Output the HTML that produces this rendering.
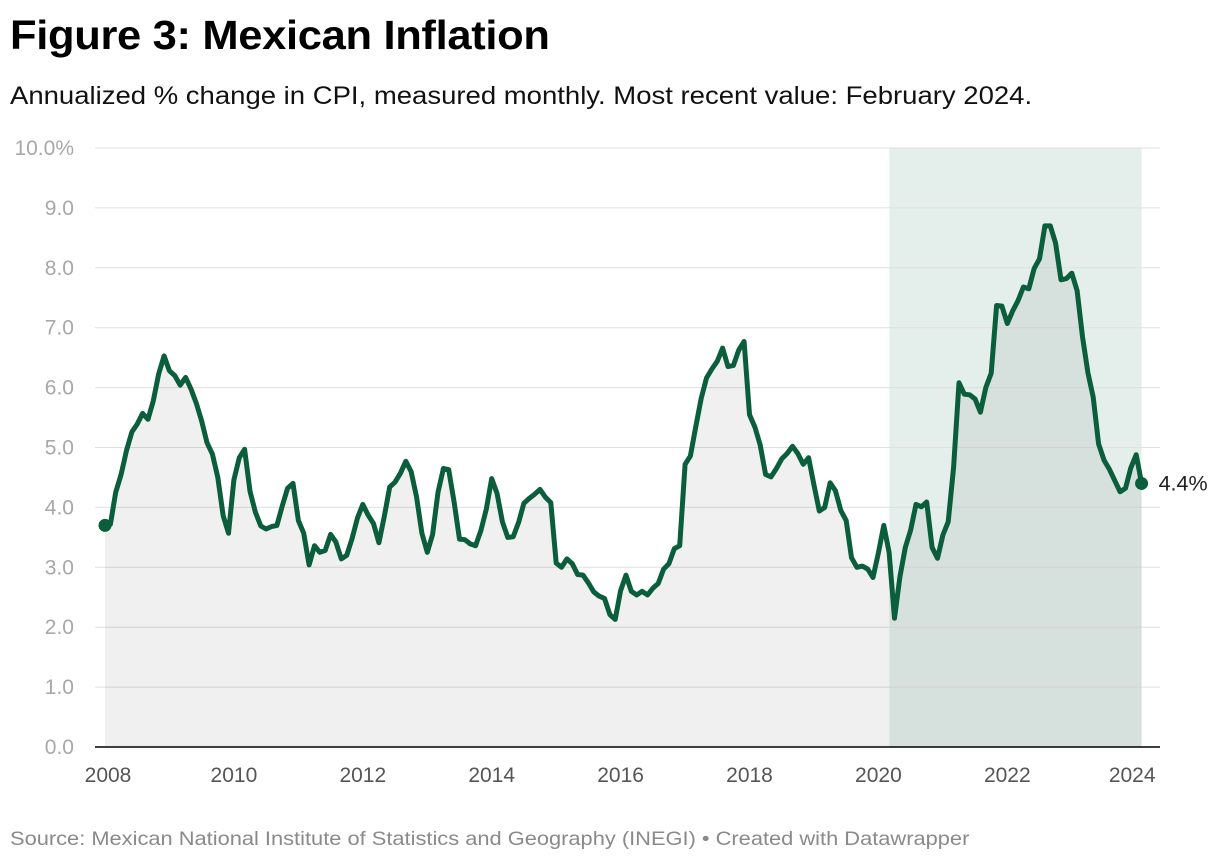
<!DOCTYPE html>
<html><head><meta charset="utf-8">
<style>
body{margin:0;background:#fff;font-family:"Liberation Sans",sans-serif;}
#wrap{position:relative;width:1220px;height:864px;overflow:hidden;}
h1{position:absolute;left:10px;top:12px;margin:0;font-size:41px;font-weight:bold;color:#000;letter-spacing:-0.3px;transform:scaleX(1.06);transform-origin:left top;white-space:nowrap;}
.sub{position:absolute;left:10px;top:82px;font-size:25px;color:#111;transform:scaleX(1.10);transform-origin:left top;white-space:nowrap;}
.src{position:absolute;left:10px;top:828px;font-size:19.5px;color:#8a8a8a;transform:scaleX(1.12);transform-origin:left top;white-space:nowrap;}
</style></head><body>
<div id="wrap">
<h1>Figure 3: Mexican Inflation</h1>
<div class="sub">Annualized % change in CPI, measured monthly. Most recent value: February 2024.</div>
<svg id="chart" width="1220" height="864" style="position:absolute;left:0;top:0"></svg>
<div class="src">Source: Mexican National Institute of Statistics and Geography (INEGI) • Created with Datawrapper</div>
</div>
<script>
const startYear = 2008;
const inflation = [
3.70,3.72,4.25,4.55,4.95,5.26,5.39,5.57,5.47,5.78,6.23,6.53,
6.28,6.20,6.04,6.17,5.98,5.74,5.44,5.08,4.89,4.50,3.86,3.57,
4.46,4.83,4.97,4.27,3.92,3.69,3.64,3.68,3.70,4.02,4.32,4.40,
3.78,3.57,3.04,3.36,3.25,3.28,3.55,3.42,3.14,3.20,3.48,3.82,
4.05,3.87,3.73,3.41,3.85,4.34,4.42,4.57,4.77,4.60,4.18,3.57,
3.25,3.55,4.25,4.65,4.63,4.09,3.47,3.46,3.39,3.36,3.62,3.97,
4.48,4.23,3.76,3.50,3.51,3.75,4.07,4.15,4.22,4.30,4.17,4.08,
3.07,3.00,3.14,3.06,2.88,2.87,2.74,2.59,2.52,2.48,2.21,2.13,
2.61,2.87,2.60,2.54,2.60,2.54,2.65,2.73,2.97,3.06,3.31,3.36,
4.72,4.86,5.35,5.82,6.16,6.31,6.44,6.66,6.35,6.37,6.63,6.77,
5.55,5.34,5.04,4.55,4.51,4.65,4.81,4.90,5.02,4.90,4.72,4.83,
4.37,3.94,4.00,4.41,4.28,3.95,3.78,3.16,3.00,3.02,2.97,2.83,
3.24,3.70,3.25,2.15,2.84,3.33,3.62,4.05,4.01,4.09,3.33,3.15,
3.54,3.76,4.67,6.08,5.89,5.88,5.81,5.59,6.00,6.24,7.37,7.36,
7.07,7.28,7.45,7.68,7.65,7.99,8.15,8.70,8.70,8.41,7.80,7.82,
7.91,7.62,6.85,6.25,5.84,5.06,4.79,4.64,4.45,4.26,4.32,4.66,
4.88,4.40];
const yTicks = [0,1,2,3,4,5,6,7,8,9,10];
const yTickLabels = ["0.0","1.0","2.0","3.0","4.0","5.0","6.0","7.0","8.0","9.0","10.0%"];
const xTicks = [2008,2010,2012,2014,2016,2018,2020,2022,2024];
const shadeStart = 2020.17;

const NS="http://www.w3.org/2000/svg";
const svg=document.getElementById('chart');
const x0=105, pxYear=64.45, yBase=747, pxUnit=59.9;
const xs = t => x0+(t-startYear)*pxYear;
const ys = v => yBase - v*pxUnit;
const tOf = i => startYear + i/12;
function mk(tag,attrs){const e=document.createElementNS(NS,tag);for(const k in attrs)e.setAttribute(k,attrs[k]);svg.appendChild(e);return e;}
const n=inflation.length, tEnd=tOf(n-1);

let band=mk('rect',{x:xs(shadeStart),y:ys(10),width:xs(tEnd)-xs(shadeStart),height:ys(0)-ys(10),fill:'#e4eeea'});



yTicks.forEach((v,i)=>{
  if(v>0){const g=mk('line',{x1:95,x2:1160,y1:ys(v),y2:ys(v),stroke:'#e0e0e0','stroke-width':1});
  
  }
  const t=mk('text',{x:74,y:ys(v)+7,'text-anchor':'end','font-size':21,fill:'#a8a8a8'});
  t.textContent=yTickLabels[i];
  
  
});

let pts=inflation.map((v,i)=>xs(tOf(i)).toFixed(1)+','+ys(v).toFixed(1));
let area=mk('path',{d:'M'+xs(startYear)+','+ys(0)+' L'+pts.join(' L')+' L'+xs(tEnd)+','+ys(0)+'Z',fill:'rgba(0,0,0,0.06)'});



let ax=mk('line',{x1:95,x2:1160,y1:ys(0),y2:ys(0),stroke:'#000','stroke-width':1.5});



let line=mk('polyline',{points:pts.join(' '),fill:'none',stroke:'#0b5e3c','stroke-width':5,'stroke-linejoin':'round','stroke-linecap':'round'});



let d1=mk('circle',{cx:xs(startYear),cy:ys(inflation[0]),r:6.5,fill:'#0b5e3c'});


let d2=mk('circle',{cx:xs(tEnd),cy:ys(inflation[n-1]),r:6.5,fill:'#0b5e3c'});


let lbl=mk('text',{x:xs(tEnd)+17,y:ys(inflation[n-1])+7,'font-size':21.5,fill:'#222'});
lbl.textContent=inflation[n-1].toFixed(1)+'%';



xTicks.forEach(y=>{
  const t=mk('text',{x:xs(y)+(y===2008?3:y===2024?-4:0),y:782,'text-anchor':'middle','font-size':21,fill:'#555'});
  t.textContent=y;
  
  
});
</script>
</body></html>
